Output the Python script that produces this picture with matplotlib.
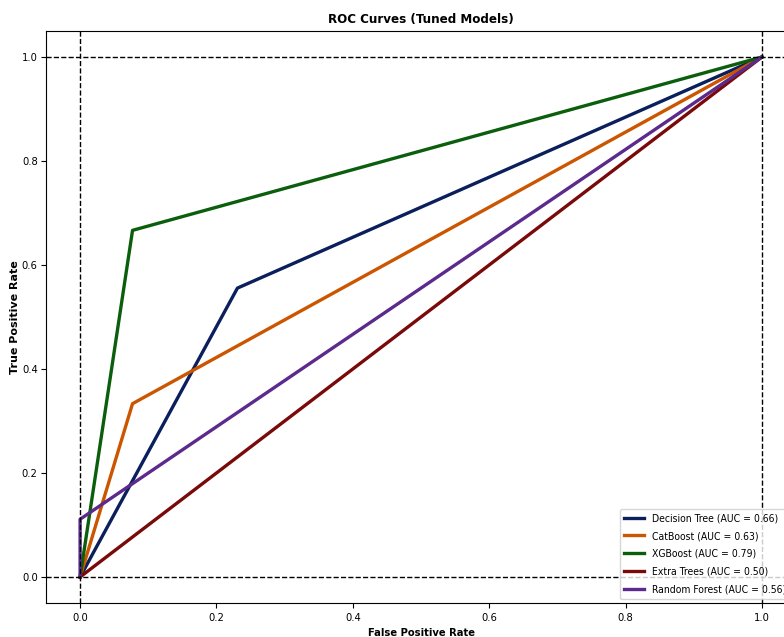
import matplotlib
matplotlib.use("Agg")
import matplotlib.pyplot as plt

plt.rcParams["font.family"] = ["DejaVu Sans"]
plt.rcParams["font.stretch"] = "condensed"

models = ["Decision Tree", "CatBoost", "XGBoost", "Extra Trees", "Random Forest"]
aucs = [0.66, 0.63, 0.79, 0.50, 0.56]
fprs = [
    [0.0, 3/13, 1.0],
    [0.0, 1/13, 1.0],
    [0.0, 1/13, 1.0],
    [0.0, 1.0],
    [0.0, 0.0, 1.0],
]
tprs = [
    [0.0, 5/9, 1.0],
    [0.0, 1/3, 1.0],
    [0.0, 2/3, 1.0],
    [0.0, 1.0],
    [0.0, 1/9, 1.0],
]
colors = ["#0a1f5c", "#cc5500", "#0b5e0b", "#7a0a0a", "#5b2a8c"]

fig = plt.figure(figsize=(7.84, 6.37), dpi=100)
ax = fig.add_axes([46/784, 34/637, 750/784, 572/637])

for m, a, fx, ty, c in zip(models, aucs, fprs, tprs, colors):
    ax.plot(fx, ty, color=c, lw=2.4, label=f"{m} (AUC = {a:.2f})")

for v in (0, 1):
    ax.axhline(v, color="black", ls="--", lw=1)
    ax.axvline(v, color="black", ls="--", lw=1)

ax.set_xlim(-0.05, 1.05)
ax.set_ylim(-0.05, 1.05)
ax.set_xticks([0, 0.2, 0.4, 0.6, 0.8, 1.0])
ax.set_yticks([0, 0.2, 0.4, 0.6, 0.8, 1.0])
ax.tick_params(labelsize=8)
ax.tick_params(axis="y", pad=2.5)
ax.set_title("ROC Curves (Tuned Models)", fontsize=9.5, fontweight="bold")
ax.set_xlabel("False Positive Rate", fontsize=8, fontweight="bold")
ax.set_ylabel("True Positive Rate", fontsize=8, fontweight="bold",
              fontstretch="normal", labelpad=1)
ax.legend(loc="lower left", fontsize=7.5, labelspacing=0.76,
          bbox_to_anchor=(620/784, 38/637), bbox_transform=fig.transFigure,
          borderaxespad=0, handlelength=1.9)

fig.savefig("out.png", dpi=100)
